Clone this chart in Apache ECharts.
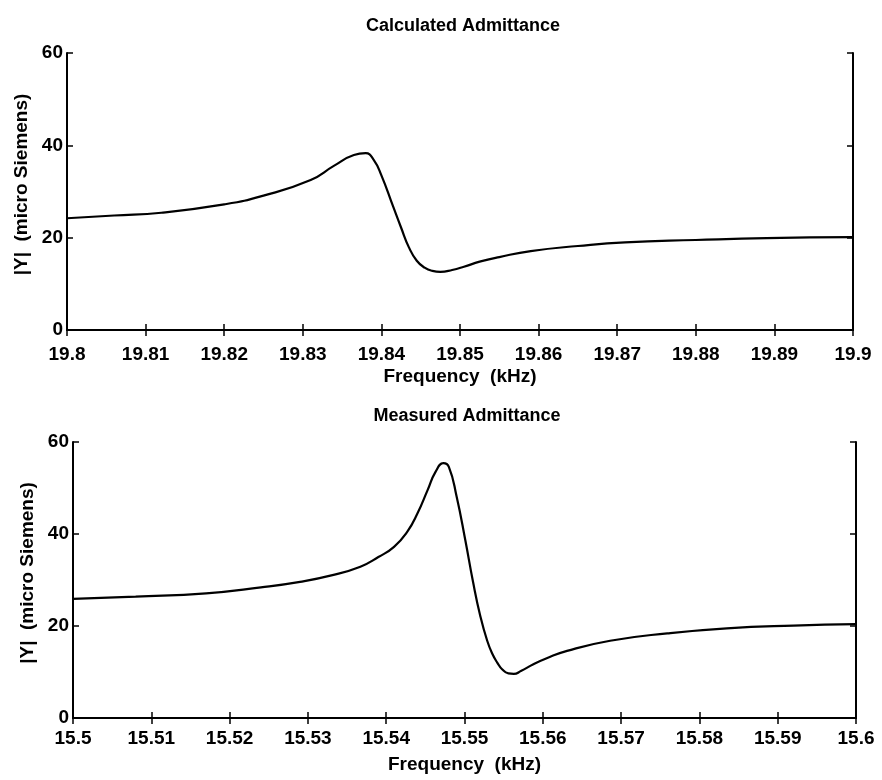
<!DOCTYPE html>
<html>
<head>
<meta charset="utf-8">
<script src="https://cdn.jsdelivr.net/npm/echarts@6/dist/echarts.min.js"></script>
<style>
  html, body { margin: 0; padding: 0; background: #fff; }
  #chart { width: 882px; height: 780px; }
</style>
</head>
<body>
<div id="chart"></div>
<script>
// Calculated admittance magnitude around the 19.84 kHz resonance
const calcFreq = [19.800, 19.806, 19.812, 19.820, 19.825, 19.831, 19.834, 19.8365, 19.838, 19.839,
                  19.840, 19.8415, 19.8425, 19.8435, 19.8445, 19.8455, 19.8465, 19.8475, 19.849, 19.8505,
                  19.8525, 19.855, 19.859, 19.865, 19.871, 19.880, 19.889, 19.900];
const calcY = [24.2, 24.8, 25.4, 27.2, 29.1, 32.5, 35.6, 37.9, 38.3, 36.9,
               33.5, 26.7, 22.2, 17.9, 15.0, 13.5, 12.8, 12.6, 13.0, 13.7,
               14.8, 15.8, 17.1, 18.2, 19.0, 19.5, 19.9, 20.1];

// Measured admittance magnitude around the 15.55 kHz resonance
const measFreq = [15.500, 15.508, 15.517, 15.524, 15.529, 15.533, 15.5367, 15.539, 15.541, 15.5427,
                  15.544, 15.5453, 15.5463, 15.5473, 15.548, 15.549, 15.5501, 15.5511, 15.552, 15.5529,
                  15.5536, 15.5542, 15.5548, 15.5556, 15.5563, 15.5572, 15.5588, 15.5605, 15.5631, 15.5686,
                  15.5759, 15.5835, 15.592, 15.600];
const measY = [25.9, 26.4, 27.1, 28.4, 29.6, 31.0, 32.9, 35.0, 37.2, 40.5,
               44.5, 49.6, 53.5, 55.4, 54.6, 48.1, 38.7, 29.5, 22.3, 16.8,
               13.8, 12.0, 10.6, 9.7, 9.6, 10.2, 11.7, 13.0, 14.6, 16.8,
               18.4, 19.5, 20.1, 20.4];

const titles = ['Calculated Admittance', 'Measured Admittance'];
const xName = 'Frequency  (kHz)';
const yName = '|Y|  (micro Siemens)';
const yMin = 0, yMax = 60, yStep = 20;
const xStep = 0.01;

const FONT = 'Liberation Sans, Arial, Helvetica, sans-serif';
const zip = (xs, ys) => xs.map((x, i) => [x, ys[i]]);
const fmtX = v => String(Number(v.toFixed(2)));
const textBase = { fontFamily: FONT, fontSize: 19, fontWeight: 'bold', color: '#000' };

const panels = [
  { grid: { left: 67, right: 29, top: 53, height: 277 }, xMin: 19.8, xMax: 19.9,
    labelMargin: 15, title: { left: 458, top: 12 } },
  { grid: { left: 73, right: 26, top: 442, height: 276 }, xMin: 15.5, xMax: 15.6,
    labelMargin: 11, title: { left: 462, top: 402 } }
];

const lineStyle = { color: '#000', width: 2 };
const tickStyle = { color: '#000', width: 1.5 };

const grid = [], xAxis = [], yAxis = [], title = [];
panels.forEach((p, i) => {
  grid.push(Object.assign({ containLabel: false }, p.grid));
  title.push({
    text: titles[i], left: p.title.left, top: p.title.top, textAlign: 'center',
    textStyle: Object.assign({}, textBase, { fontSize: 18 })
  });
  // bottom axis with labels
  xAxis.push({
    type: 'value', gridIndex: i, position: 'bottom', min: p.xMin, max: p.xMax, interval: xStep,
    name: xName, nameLocation: 'middle', nameGap: 37,
    nameTextStyle: textBase,
    axisLine: { show: true, lineStyle },
    axisTick: { show: true, inside: true, length: 6, lineStyle: tickStyle },
    axisLabel: Object.assign({ show: true, margin: p.labelMargin, formatter: fmtX,
                               showMinLabel: true, showMaxLabel: true }, textBase),
    splitLine: { show: false }
  });
  // mirrored top axis, ticks only
  xAxis.push({
    type: 'value', gridIndex: i, position: 'top', min: p.xMin, max: p.xMax, interval: xStep,
    axisLine: { show: true, lineStyle },
    axisTick: { show: true, inside: true, length: 6, lineStyle: tickStyle },
    axisLabel: { show: false }, splitLine: { show: false }
  });
  yAxis.push({
    type: 'value', gridIndex: i, position: 'left', min: yMin, max: yMax, interval: yStep,
    name: yName, nameLocation: 'middle', nameGap: 34,
    nameTextStyle: Object.assign({ padding: [0, 0, 0, 14] }, textBase),
    axisLine: { show: true, lineStyle },
    axisTick: { show: true, inside: true, length: 6, lineStyle: tickStyle },
    axisLabel: Object.assign({ show: true, margin: 4 }, textBase),
    splitLine: { show: false }
  });
  yAxis.push({
    type: 'value', gridIndex: i, position: 'right', min: yMin, max: yMax, interval: yStep,
    axisLine: { show: true, lineStyle },
    axisTick: { show: true, inside: true, length: 6, lineStyle: tickStyle },
    axisLabel: { show: false }, splitLine: { show: false }
  });
});

const chart = echarts.init(document.getElementById('chart'), null, { renderer: 'canvas' });
chart.setOption({
  backgroundColor: '#fff',
  animation: false,
  title,
  grid,
  xAxis,
  yAxis,
  series: [
    { type: 'line', xAxisIndex: 0, yAxisIndex: 0, data: zip(calcFreq, calcY),
      showSymbol: false, smooth: 0.5, lineStyle: { color: '#000', width: 2.2 } },
    { type: 'line', xAxisIndex: 2, yAxisIndex: 2, data: zip(measFreq, measY),
      showSymbol: false, smooth: 0.5, lineStyle: { color: '#000', width: 2.2 } }
  ]
});
</script>
</body>
</html>
